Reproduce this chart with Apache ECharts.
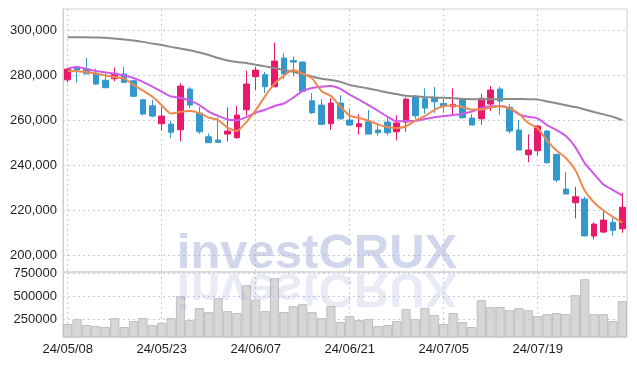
<!DOCTYPE html>
<html>
<head>
<meta charset="utf-8">
<script src="https://cdn.jsdelivr.net/npm/echarts@6/dist/echarts.min.js"></script>
<style>
html,body{margin:0;padding:0;background:#fff;}
#chart{width:637px;height:366px;}
</style>
</head>
<body>
<div id="chart"></div>
<script>
const dates = ['24/05/08','24/05/09','24/05/10','24/05/13','24/05/14','24/05/16','24/05/17','24/05/20','24/05/21','24/05/22',
'24/05/23','24/05/24','24/05/27','24/05/28','24/05/29','24/05/30','24/05/31','24/06/03','24/06/04','24/06/05',
'24/06/07','24/06/10','24/06/11','24/06/12','24/06/13','24/06/14','24/06/17','24/06/18','24/06/19','24/06/20',
'24/06/21','24/06/24','24/06/25','24/06/26','24/06/27','24/06/28','24/07/01','24/07/02','24/07/03','24/07/04',
'24/07/05','24/07/08','24/07/09','24/07/10','24/07/11','24/07/12','24/07/15','24/07/16','24/07/17','24/07/18',
'24/07/19','24/07/22','24/07/23','24/07/24','24/07/25','24/07/26','24/07/29','24/07/30','24/07/31','24/08/01'];

const opens = [278000, 283700, 282800, 280900, 277800, 278500, 280600, 277600, 269150, 266500,
258500, 258360, 255800, 273900, 263240, 252700, 251250, 253900, 252300, 264700,
279400, 280260, 274930, 287700, 286600, 285900, 268700, 266800, 258500, 267690,
260130, 257150, 259380, 255700, 259240, 254930, 259240, 270670, 269600, 270220,
267550, 266040, 269150, 261020, 260710, 267240, 273910, 265780, 255690, 244710,
246490, 255240, 244890, 229470, 223380, 225030, 208580, 210360, 214660, 211820];
const closes = [282800, 282350, 280700, 276130, 274500, 280900, 276900, 270700, 262800, 261900,
261900, 254700, 275240, 266800, 254900, 250050, 250200, 255250, 262350, 276130,
282350, 274930, 286350, 280600, 285900, 272900, 263380, 258220, 267690, 260700,
257900, 258500, 253900, 254490, 254490, 258800, 269470, 262040, 265470, 268270,
266350, 267110, 261150, 257910, 269780, 273470, 268580, 255240, 246800, 246800,
257470, 241160, 233470, 227250, 226050, 208650, 213920, 215700, 211110, 221340];
const lows = [277000, 276800, 280500, 275800, 274500, 277400, 276700, 270400, 262200, 261300,
255400, 252100, 250650, 265500, 254000, 250050, 250200, 250650, 251800, 262200,
273460, 272130, 274930, 278500, 279550, 272600, 262800, 257780, 255800, 260270,
257900, 253600, 253900, 253160, 253330, 251110, 254930, 260710, 262930, 263240,
263380, 262220, 260890, 257910, 258050, 264130, 262360, 254220, 246800, 241330,
244270, 240890, 232580, 227250, 216450, 208500, 207110, 209780, 208720, 210050];
const highs = [283300, 284100, 287700, 283000, 281600, 283500, 283800, 277600, 269500, 269150,
266000, 259800, 276450, 274700, 265900, 254200, 261300, 265800, 266500, 282050,
283800, 281460, 294550, 289900, 288450, 286200, 272130, 269470, 269900, 271100,
265330, 262670, 264580, 258040, 261600, 262220, 270220, 271380, 274220, 274800,
269600, 274220, 269600, 262800, 271820, 275240, 274970, 267240, 260130, 253780,
257780, 255690, 245020, 237160, 230490, 226050, 214660, 220140, 216720, 227830];
const volumes = [200000, 254400, 189100, 178300, 167400, 265200, 167400, 232600, 265200, 189100,
214100, 265200, 504400, 243500, 373900, 330400, 482600, 341300, 319600, 623900,
467400, 341300, 700000, 330400, 395700, 417400, 330400, 265200, 395700, 221700,
287000, 243500, 254400, 178300, 189100, 232600, 363000, 254400, 373900, 297800,
200000, 319600, 221700, 167400, 460900, 384800, 384800, 352200, 373900, 352200,
287000, 308700, 319600, 308700, 515200, 689200, 308700, 308700, 232600, 450000];
const ma5 = [282000, 281820, 281470, 280800, 280000, 279240, 278660, 275780, 273240, 270580,
266710, 263020, 263780, 264130, 263240, 261240, 260130, 256800, 255240, 259240,
264580, 270800, 276350, 279910, 282350, 280800, 278660, 273020, 270800, 266130,
262090, 261020, 259910, 258220, 257020, 256580, 257380, 259910, 261910, 264580,
266360, 266580, 265910, 264800, 264800, 265690, 266270, 265330, 263020, 258800,
256490, 251020, 246580, 243250, 237910, 228800, 223470, 219910, 217110, 214580];
const ma20 = [283110, 283690, 282800, 281910, 281330, 280710, 280000, 278800, 277110, 275020,
272800, 270580, 270090, 268750, 266800, 263910, 262000, 260360, 260000, 261470,
263380, 264710, 266360, 267510, 270130, 273020, 274350, 274930, 275240, 274000,
271470, 269240, 266800, 264270, 261690, 259560, 259690, 259820, 260580, 261380,
261910, 262360, 262980, 263910, 265470, 266270, 266360, 265470, 262670, 261600,
260890, 257910, 255690, 253020, 248130, 241020, 236140, 231470, 229030, 226580];
const ma60 = [296900, 296900, 296900, 296840, 296750, 296350, 295910, 295460, 294890, 294130,
293460, 292660, 291910, 291150, 290130, 289020, 287690, 286580, 285910, 285460,
284710, 284000, 283240, 282440, 281550, 280580, 279550, 278530, 277910, 277110,
275730, 274930, 274180, 273330, 272400, 271690, 270890, 270670, 270350, 270130,
270000, 269820, 269550, 269380, 269330, 269380, 269470, 269550, 269510, 269420,
269330, 268350, 267600, 266750, 265910, 264840, 263690, 262670, 261640, 260130];

const priceTicks = [200000, 220000, 240000, 260000, 280000, 300000];
const volumeTicks = [250000, 500000, 750000];
const watermark = 'investCRUX';

const candles = dates.map((d, i) => [opens[i], closes[i], lows[i], highs[i]]);

const UP = '#e8196b', DOWN = '#3398cb';
const dotted = { color: '#c9cce0', type: [2, 3], width: 1 };
const font = '"Liberation Sans", Arial, sans-serif';

const chart = echarts.init(document.getElementById('chart'), null, { renderer: 'canvas' });
chart.setOption({
  animation: false,
  backgroundColor: '#fff',
  grid: [
    { left: 63, right: 10, top: 9, height: 263, show: true, borderColor: '#cfcfcf', borderWidth: 1 },
    { left: 63, right: 10, top: 272, height: 65, show: true, borderColor: '#cfcfcf', borderWidth: 1 }
  ],
  xAxis: [
    { type: 'category', gridIndex: 0, data: dates, boundaryGap: true,
      axisLine: { show: false }, axisTick: { show: false }, axisLabel: { show: false },
      splitLine: { show: true, interval: 9, alignWithLabel: true, lineStyle: dotted } },
    { type: 'category', gridIndex: 1, data: dates, boundaryGap: true,
      axisLine: { show: false }, axisTick: { show: false },
      axisLabel: { interval: 9, color: '#1e1e1e', fontSize: 13, fontFamily: font, margin: 6 },
      splitLine: { show: true, interval: 9, alignWithLabel: true, lineStyle: dotted } }
  ],
  yAxis: [
    { type: 'value', gridIndex: 0, min: 192600, max: 309500,
      axisLine: { show: true, lineStyle: { color: '#cfcfcf' } },
      axisTick: { show: false, customValues: priceTicks },
      axisLabel: { color: '#1e1e1e', fontSize: 13, fontFamily: font, margin: 6, customValues: priceTicks,
        padding: [4, 0, 0, 0], formatter: v => v.toLocaleString('en-US') },
      splitLine: { show: false } },
    { type: 'value', gridIndex: 1, min: 58700, max: 768500,
      axisLine: { show: true, lineStyle: { color: '#cfcfcf' } },
      axisTick: { show: false, customValues: volumeTicks },
      axisLabel: { color: '#1e1e1e', fontSize: 13, fontFamily: font, margin: 6, customValues: volumeTicks,
        padding: [4, 0, 0, 0], formatter: v => String(v) },
      splitLine: { show: false } }
  ],
  series: [
    { type: 'candlestick', xAxisIndex: 0, yAxisIndex: 0, data: candles, barWidth: 6,
      itemStyle: { color: UP, color0: DOWN, borderColor: UP, borderColor0: DOWN, borderWidth: 1 },
      markLine: { silent: true, symbol: 'none', label: { show: false }, lineStyle: dotted, z: 1,
        emphasis: { disabled: true },
        data: priceTicks.map(v => ({ yAxis: v })) } },
    { type: 'line', xAxisIndex: 0, yAxisIndex: 0, data: ma60, showSymbol: false, smooth: 0.2,
      lineStyle: { color: '#8a8a8a', width: 2 }, z: 3 },
    { type: 'line', xAxisIndex: 0, yAxisIndex: 0, data: ma20, showSymbol: false, smooth: 0.2,
      lineStyle: { color: '#cc5be6', width: 2 }, z: 3 },
    { type: 'line', xAxisIndex: 0, yAxisIndex: 0, data: ma5, showSymbol: false, smooth: 0.2,
      lineStyle: { color: '#ef8a4e', width: 2 }, z: 3 },
    { type: 'bar', xAxisIndex: 1, yAxisIndex: 1, data: volumes, barCategoryGap: '2%',
      itemStyle: { color: '#d7d7d7', borderColor: '#bdbdbd', borderWidth: 1 },
      markLine: { silent: true, symbol: 'none', label: { show: false }, lineStyle: dotted,
        emphasis: { disabled: true },
        data: volumeTicks.map(v => ({ yAxis: v })) } }
  ],
  graphic: [
    { type: 'text', x: 317, y: 254, z: 100, silent: true,
      style: { text: watermark, font: 'bold 49px "Liberation Sans", Arial, sans-serif',
        fill: 'rgba(150,163,210,0.45)', textAlign: 'center', textVerticalAlign: 'middle' } },
    { type: 'text', x: 317, y: 288, scaleY: -1, z: 100, silent: true,
      style: { text: watermark, font: 'bold 49px "Liberation Sans", Arial, sans-serif',
        fill: 'rgba(150,163,210,0.22)', textAlign: 'center', textVerticalAlign: 'middle' } }
  ]
});
</script>
</body>
</html>
